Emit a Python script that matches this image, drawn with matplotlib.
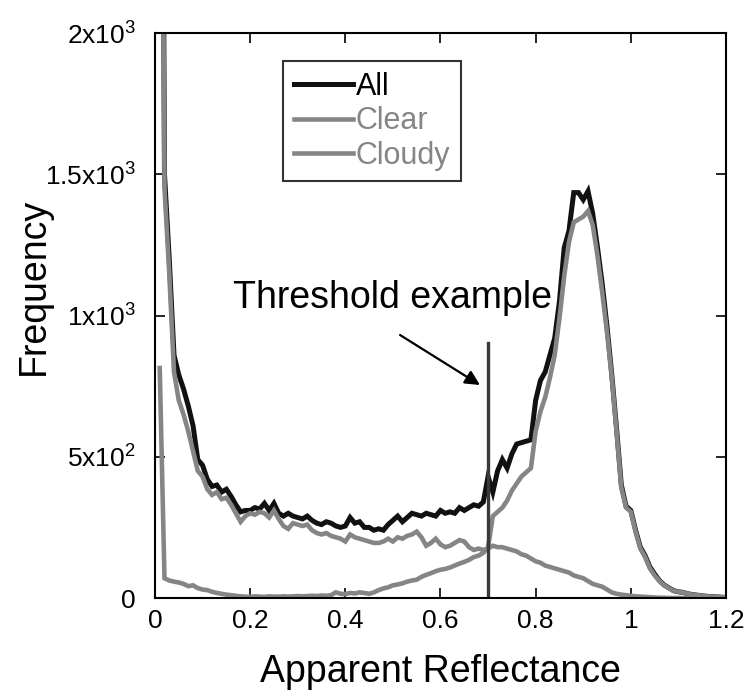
import numpy as np
import matplotlib
matplotlib.use("Agg")
import matplotlib.pyplot as plt

plt.rcParams["font.family"] = ["Liberation Sans", "DejaVu Sans"]
plt.rcParams["mathtext.fontset"] = "custom"
plt.rcParams["mathtext.rm"] = "Liberation Sans"
plt.rcParams["mathtext.it"] = "Liberation Sans:italic"
plt.rcParams["mathtext.bf"] = "Liberation Sans:bold"

# bin centres, 0.01 .. 1.20
reflectance = np.round(np.arange(1, 121) * 0.01, 2)

all_freq = [
    5000, 1500, 1200, 860, 790, 740, 680, 610, 490, 470,
    420, 395, 400, 375, 385, 360, 330, 305, 310, 310,
    320, 315, 335, 310, 335, 300, 290, 300, 290, 285,
    280, 290, 275, 265, 260, 270, 265, 255, 250, 255,
    285, 265, 270, 250, 250, 240, 245, 240, 260, 275,
    290, 270, 285, 300, 295, 290, 300, 295, 290, 310,
    300, 305, 300, 320, 310, 320, 330, 325, 340, 430,
    375, 450, 490, 460, 510, 545, 550, 555, 560, 700,
    770, 800, 860, 920, 1050, 1240, 1300, 1435, 1435, 1410,
    1440, 1360, 1240, 1110, 960, 790, 600, 400, 325, 310,
    240, 180, 150, 110, 85, 62, 46, 36, 26, 22,
    20, 15, 12, 10, 8, 6, 5, 4, 3, 2,
]

clear_freq = [
    4200, 1450, 1150, 800, 700, 650, 590, 520, 450, 430,
    385, 365, 375, 350, 355, 330, 300, 270, 290, 300,
    295, 305, 300, 285, 310, 280, 255, 245, 265, 260,
    255, 260, 240, 230, 225, 230, 220, 215, 210, 200,
    225, 215, 210, 205, 200, 195, 195, 200, 210, 200,
    215, 210, 220, 225, 235, 215, 185, 195, 210, 190,
    180, 185, 195, 205, 200, 180, 170, 175, 170, 175,
    185, 180, 180, 175, 170, 165, 155, 150, 140, 130,
    125, 115, 110, 105, 100, 95, 90, 80, 75, 70,
    60, 50, 45, 40, 30, 20, 15, 12, 10, 8,
    6, 5, 4, 3, 2, 1, 1, 0, 0, 0,
    0, 0, 0, 0, 0, 0, 0, 0, 0, 0,
]

cloudy_freq = [
    814, 70, 62, 58, 55, 50, 42, 45, 35, 30,
    28, 22, 18, 15, 12, 10, 8, 6, 5, 4,
    6, 5, 4, 6, 5, 5, 6, 5, 6, 7,
    6, 7, 8, 7, 9, 8, 10, 20, 15, 14,
    18, 16, 20, 18, 15, 20, 28, 34, 38, 45,
    48, 52, 58, 62, 65, 75, 82, 88, 95, 100,
    103, 108, 115, 122, 128, 135, 145, 150, 160, 180,
    290, 305, 320, 345, 380, 405, 430, 445, 460, 590,
    660, 710, 780, 860, 990, 1140, 1260, 1330, 1340, 1350,
    1370, 1320, 1210, 1080, 940, 780, 590, 390, 320, 305,
    235, 175, 145, 105, 80, 60, 45, 35, 25, 22,
    20, 15, 12, 10, 8, 6, 5, 4, 3, 2,
]

threshold_x = 0.70
threshold_top = 903

y_ticks = [0, 500, 1000, 1500, 2000]
y_tick_labels = ["0", r"5x10$^2$", r"1x10$^3$", r"1.5x10$^3$", r"2x10$^3$"]
x_ticks = [0, 0.2, 0.4, 0.6, 0.8, 1.0, 1.2]
x_tick_labels = ["0", "0.2", "0.4", "0.6", "0.8", "1", "1.2"]

GRAY = "#858585"

fig = plt.figure(figsize=(7.49, 6.92), dpi=100)
ax = fig.add_axes([0.2069, 0.1358, 0.7624, 0.8165])

ax.plot(reflectance, all_freq, color="#111111", lw=3.6, label="All", solid_joinstyle="miter")
ax.plot(reflectance, clear_freq, color=GRAY, lw=3.3, label="Clear", solid_joinstyle="miter")
ax.plot(reflectance, cloudy_freq, color=GRAY, lw=3.3, label="Cloudy", solid_joinstyle="miter")

ax.plot([threshold_x, threshold_x], [0, threshold_top], color="#3a3a3a", lw=2.4)

ax.text(0.163, 1027, "Threshold example", fontsize=27, va="baseline", ha="left")
ax.annotate("", xy=(0.683, 754), xytext=(0.515, 931),
            arrowprops=dict(arrowstyle="-|>", color="black", lw=1.6,
                            mutation_scale=22, shrinkA=0, shrinkB=0))

ax.set_xlim(0, 1.2)
ax.set_ylim(0, 2000)
ax.set_xticks(x_ticks)
ax.set_xticklabels(x_tick_labels)
ax.set_yticks(y_ticks)
ax.set_yticklabels(y_tick_labels)
ax.tick_params(direction="in", length=7, width=1.2, top=True, right=True,
               labelsize=19)
ax.tick_params(axis="x", pad=8)
ax.tick_params(axis="y", pad=14)
for sp in ax.spines.values():
    sp.set_linewidth(1.5)

ax.set_xlabel("Apparent Reflectance", fontsize=27, labelpad=15)
ax.set_ylabel("Frequency", fontsize=27)
ax.yaxis.set_label_coords(-0.18, 0.552)

leg = ax.legend(loc="upper left", bbox_to_anchor=(0.224, 0.950), fontsize=22,
                frameon=True, fancybox=False, edgecolor="black",
                handlelength=1.93, handletextpad=0.1, labelspacing=0.14,
                borderpad=0.35, borderaxespad=0,
                labelcolor=["black", GRAY, GRAY])
leg.get_frame().set_linewidth(1.5)

fig.savefig("out.png", dpi=100)
